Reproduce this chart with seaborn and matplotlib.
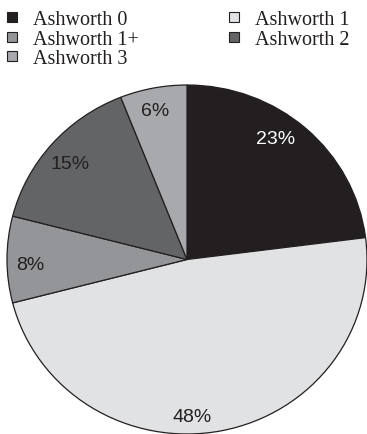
import matplotlib
matplotlib.use("Agg")
import matplotlib.pyplot as plt
import seaborn as sns
import numpy as np
from matplotlib.lines import Line2D

categories = ["Ashworth 0", "Ashworth 1", "Ashworth 1+", "Ashworth 2", "Ashworth 3"]
values = [23, 48, 8, 15, 6]
colors = ["#231f20", "#e1e2e4", "#939598", "#636466", "#a7a9ac"]
label_colors = ["white", "#231f20", "#231f20", "#231f20", "#231f20"]

sns.set_theme(style="white")
plt.rcParams['font.family'] = ['Liberation Sans', 'DejaVu Sans']

fig = plt.figure(figsize=(3.67, 4.35), dpi=100)
W, H = 367, 435
ax = fig.add_axes([7 / W, 0 / H, 360 / W, 349 / H])

wedges, texts, autotexts = ax.pie(
    values, colors=colors, startangle=90, counterclock=False,
    autopct=lambda p: f"{p:.0f}%", pctdistance=0.87,
    wedgeprops=dict(edgecolor="#231f20", linewidth=0.9),
    textprops=dict(fontsize=14, family=['Liberation Sans']),
)
# label angle tweaks (degrees, shift along the arc) and radial distance
angle_shift = [6, -9, 2, 1, 1]
radial = [0.85, 0.9, 0.87, 0.85, 0.87]
for w, t, c, s, r in zip(wedges, autotexts, label_colors, angle_shift, radial):
    t.set_color(c)
    mid = np.deg2rad((w.theta1 + w.theta2) / 2 + s)
    t.set_position((r * np.cos(mid), r * np.sin(mid)))
ax.set_aspect('auto')
ax.set_xlim(-1, 1)
ax.set_ylim(-1, 1)
ax.axis('off')

order = [0, 2, 4, 1, 3]
handles = [Line2D([], [], marker='s', linestyle='none', markersize=7.5,
                  markerfacecolor=colors[i], markeredgecolor="#231f20",
                  markeredgewidth=0.8) for i in order]
labels = [categories[i] for i in order]
leg = fig.legend(handles, labels, ncol=2, loc='upper left',
                 bbox_to_anchor=(0 / W, 1 - 5 / H),
                 frameon=False, prop=dict(family='Liberation Serif', size=14.5),
                 handlelength=0.6, handletextpad=0.75, columnspacing=4.4,
                 labelspacing=0.02, borderpad=0.3, borderaxespad=0)
for t in leg.get_texts():
    t.set_color("#231f20")

fig.savefig("out.png", dpi=100, facecolor="white")
